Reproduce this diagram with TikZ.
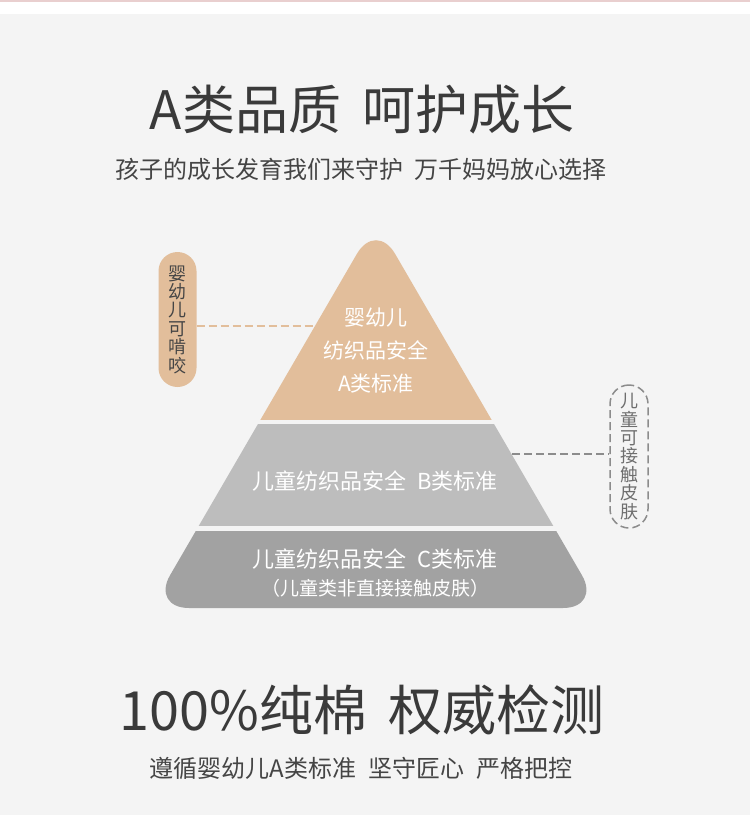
\documentclass[tikz,border=0pt]{standalone}
\usepackage{fontspec}
\setmainfont{Noto Sans CJK SC}
\usetikzlibrary{positioning, calc}
\definecolor{colBg}{HTML}{F4F4F4}
\definecolor{colStripe}{HTML}{E9CFCF}
\definecolor{colTierA}{HTML}{E2BE9B}
\definecolor{colTierB}{HTML}{BDBDBD}
\definecolor{colTierC}{HTML}{A2A2A2}
\definecolor{colTitle}{HTML}{3A3A3A}
\definecolor{colSub}{HTML}{454545}
\definecolor{colNote}{HTML}{8C8C8C}
\definecolor{colNoteText}{HTML}{6E6E6E}
\newcommand{\fsz}[2]{\fontsize{#1}{#2}\selectfont}

\begin{document}
\begin{tikzpicture}[
    x=1pt, y=-1pt,
    title/.style={font=\fsz{53}{60}, text=colTitle, inner sep=0pt},
    subtitle/.style={font=\fsz{24}{28}, text=colSub, inner sep=0pt},
    tierlbl/.style={text=white, align=center, inner sep=0pt},
    pill/.style={minimum width=38pt, rounded corners=19pt, align=center,
                 inner sep=0pt, font=\fsz{18}{18.4}},
    tag/.style={dash pattern=on 8pt off 4pt, line width=1.5pt},
]

% ---- Page background --------------------------------------------------------
\fill[colBg] (0,0) rectangle (750,815);
\fill[white] (0,0) rectangle (750,14);
\fill[colStripe] (0,0) rectangle (750,1.5);
\useasboundingbox (0,0) rectangle (750,815);

% ---- Headings ---------------------------------------------------------------
\node[title] (ttl) at (362,110) {A类品质\hspace{.4em}呵护成长};
\node[subtitle] (sub) at (361,169) {孩子的成长发育我们来守护\hspace{.45em}万千妈妈放心选择};

% ---- Pyramid (one rounded triangle, cut into three bands) -------------------
\begin{scope}
\clip[rounded corners=38pt] (376,221) -- (601,608) -- (151,608) -- cycle;
\fill[colTierA] (100,200)   rectangle (650,419.5);
\fill[colTierB] (100,423.5) rectangle (650,525.5);
\fill[colTierC] (100,530.5) rectangle (650,620);
\end{scope}

\node[tierlbl, font=\fsz{21}{33}] (tierA) at (376,351)
    {婴幼儿\\纺织品安全\\A类标准};
\node[tierlbl, font=\fsz{22}{26}] (tierB) at (375,481)
    {儿童纺织品安全\hspace{.5em}B类标准};
\node[tierlbl, font=\fsz{22}{26}] (tierC) at (375,559)
    {儿童纺织品安全\hspace{.5em}C类标准};
\node[tierlbl, font=\fsz{19}{22}, below=10pt of tierC] (tierCnote)
    {（儿童类非直接接触皮肤）};

% ---- Side tags --------------------------------------------------------------
\node[pill, fill=colTierA, text=colSub, minimum height=135pt] (lpill)
    at (177.5,319.5) {婴\\幼\\儿\\可\\啃\\咬};
\node[pill, draw=colNote, tag, text=colNoteText, minimum height=143pt] (rpill)
    at (629,456.5) {儿\\童\\可\\接\\触\\皮\\肤};

\coordinate (edgeA) at (315,326);
\coordinate (edgeB) at (512,454);
\draw[tag, colTierA] (lpill.east |- edgeA) -- (edgeA);
\draw[tag, colNote]  (edgeB) -- (edgeB -| rpill.west);

% ---- Footer headings --------------------------------------------------------
\node[title, font=\fsz{54}{60}] (ttl2) at (362,710) {100\%纯棉\hspace{.4em}权威检测};
\node[subtitle] (sub2) at (361,768) {遵循婴幼儿A类标准\hspace{.5em}坚守匠心\hspace{.5em}严格把控};

\end{tikzpicture}
\end{document}
